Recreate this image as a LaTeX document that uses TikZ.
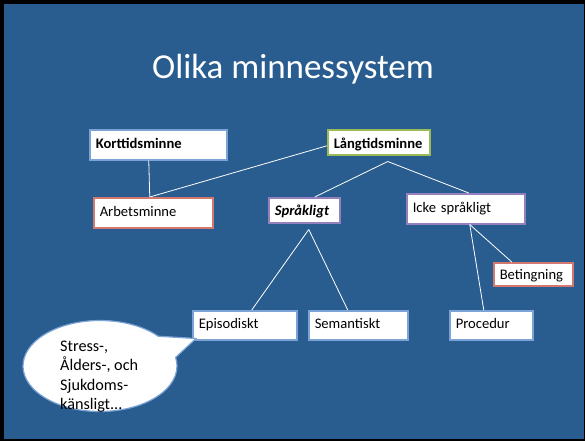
\documentclass[tikz,border=0pt]{standalone}
\usepackage{fontspec}
\setmainfont{Carlito}
\usetikzlibrary{shapes.callouts}
\definecolor{slidebg}{HTML}{295C8F}
\definecolor{bblue}{HTML}{7BA3D6}
\definecolor{bgreen}{HTML}{9BBB59}
\definecolor{bred}{HTML}{D4776F}
\definecolor{bpurple}{HTML}{9580BF}
\tikzset{
  box/.style={draw, fill=white, line width=1.5pt, anchor=north west, inner xsep=6pt, inner ysep=0pt,
    align=left, text=black, font=\fontsize{14.6}{17}\selectfont},
  link/.style={draw=white, line width=0.8pt}
}
\begin{document}
\begin{tikzpicture}[x=1pt,y=-1pt]
\useasboundingbox (0,0) rectangle (585,441);
\fill[black] (0,0) rectangle (585,441);
\fill[slidebg] (4,4) rectangle (584,439);

\node[font=\fontsize{35}{42}\selectfont, text=white, anchor=base] (title) at (293,78) {Olika minnessystem};

\node[box, draw=bblue, text width=125pt, text height=18.6pt, text depth=11.4pt] (kort) at (89,129) {\textbf{Korttidsminne}};
\node[box, draw=bgreen, text width=90pt, text height=18.3pt, text depth=6.7pt] (lang) at (327,129) {\textbf{Långtidsminne}};
\node[box, draw=bred, text width=107pt, text height=18.6pt, text depth=11.4pt] (arb) at (93,197) {Arbetsminne};
\node[box, draw=bpurple, text width=59pt, text height=17.6pt, text depth=7.4pt] (sprak) at (268,197) {\textbf{\textit{Språkligt}}};
\node[box, draw=bpurple, text width=106pt, text height=18.6pt, text depth=11.4pt] (icke) at (406,193) {Icke språkligt};
\node[box, draw=bred, text width=67pt, text height=16.6pt, text depth=6.4pt] (bet) at (493,262) {Betingning};
\node[box, draw=bblue, text width=92pt, text height=17.6pt, text depth=11.4pt] (epi) at (192,310) {Episodiskt};
\node[box, draw=bblue, text width=87pt, text height=17.6pt, text depth=11.4pt] (sem) at (308,310) {Semantiskt};
\node[box, draw=bblue, text width=71pt, text height=17.6pt, text depth=11.4pt] (proc) at (449,310) {Procedur};

\coordinate (arbTop) at ([xshift=-3.5pt]arb.north);
\coordinate (langApex) at ([xshift=9pt,yshift=-6pt]lang.south);
\coordinate (sprApex) at ([xshift=4.5pt,yshift=-6pt]sprak.south);
\coordinate (ickeApex) at ([xshift=4pt]icke.south);

\draw[link] ([xshift=-9.5pt]kort.south) -- (arbTop);
\draw[link] ([yshift=-3.5pt]lang.west) -- (arbTop);
\draw[link] (langApex) -- ([xshift=10.5pt]sprak.north);
\draw[link] (langApex) -- ([xshift=3pt]icke.north);
\draw[link] (sprApex) -- ([xshift=7pt]epi.north);
\draw[link] (sprApex) -- ([xshift=-10.5pt]sem.north);
\draw[link] (ickeApex) -- ([xshift=-21.5pt]bet.north);
\draw[link] (ickeApex) -- ([xshift=-7.5pt]proc.north);

\coordinate (tip) at ([xshift=4pt,yshift=2pt]epi.south west);
\node[ellipse callout, draw=bblue, line width=1.2pt, fill=white, minimum width=154pt, minimum height=91pt,
  callout absolute pointer=(tip), callout pointer arc=30] (bubble) at (100,366) {};
\node[anchor=north west, inner sep=0pt, align=left, text=black, font=\fontsize{16.2}{19.5}\selectfont] (bubtext) at (60,340.5)
  {Stress-,\\Ålders-, och\\Sjukdoms-\\känsligt...};
\end{tikzpicture}
\end{document}
